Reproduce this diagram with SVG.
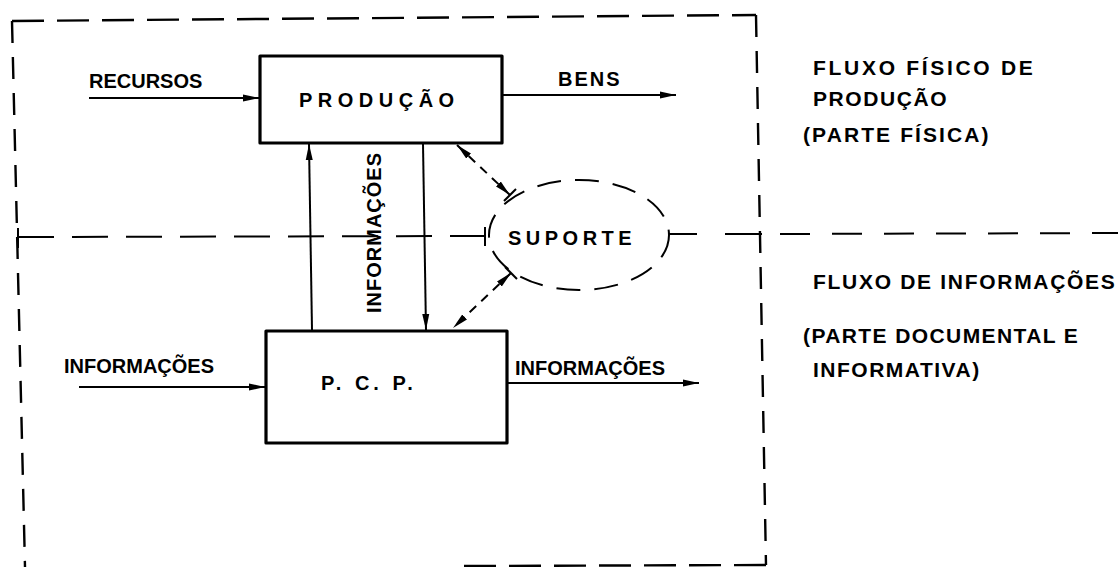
<svg xmlns="http://www.w3.org/2000/svg" width="1118" height="567" viewBox="0 0 1118 567">
<defs>
<style>
.bg{fill:#fff}
.box{fill:none;stroke:#000;stroke-width:3.2;stroke-linejoin:round}
.ln{fill:none;stroke:#000;stroke-width:2}
.dh{fill:none;stroke:#000;stroke-width:2.4;stroke-dasharray:32 13}
.dv{fill:none;stroke:#000;stroke-width:2.4;stroke-dasharray:22 14}
.dm{fill:none;stroke:#000;stroke-width:2;stroke-dasharray:36 18}
.de{fill:none;stroke:#000;stroke-width:2;stroke-dasharray:24 14}
.da{fill:none;stroke:#000;stroke-width:2;stroke-dasharray:9 7}
.t{font-family:"Liberation Sans",Arial,sans-serif;font-weight:bold;font-size:20px;fill:#000}
.lg{font-size:21px}
</style>
<marker id="ah" viewBox="0 0 16 8" refX="16" refY="4" markerWidth="16" markerHeight="8" markerUnits="userSpaceOnUse" orient="auto-start-reverse">
<path d="M0,0.5 L16,4 L0,7.5 Z" fill="#000"/>
</marker>
</defs>
<rect class="bg" x="0" y="0" width="1118" height="567"/>

<g id="frame">
<line class="dh" x1="12" y1="21" x2="756" y2="15"/>
<line class="dv" x1="12" y1="21" x2="25" y2="567"/>
<line class="dv" x1="756" y1="15" x2="766" y2="565"/>
<line class="dh" x1="766" y1="565" x2="455" y2="566"/>
<line class="dm" x1="18" y1="237" x2="485" y2="236"/>
<line class="ln" x1="18" y1="228" x2="18" y2="248"/>
<line class="ln" x1="485" y1="227" x2="485" y2="246"/>
<line class="ln" x1="669" y1="234" x2="697" y2="234"/>
<line class="ln" x1="725" y1="234" x2="762" y2="234"/>
<line class="dm" x1="780" y1="234" x2="1118" y2="233" style="stroke-dasharray:30 22"/>
</g>

<g id="producao">
<rect class="box" x="260" y="56" width="242" height="87"/>
<text class="t" x="299" y="107" style="letter-spacing:5.5px">PRODUÇÃO</text>
</g>

<g id="pcp">
<rect class="box" x="266" y="331" width="241" height="112"/>
<text class="t" x="321" y="390" style="letter-spacing:4px">P. C. P.</text>
</g>

<g id="suporte">
<ellipse class="de" cx="579" cy="235" rx="90" ry="55"/>
<text class="t" x="508" y="245" style="letter-spacing:4.5px">SUPORTE</text>
</g>

<g id="connectors">
<line class="ln" x1="89" y1="98" x2="259" y2="98" marker-end="url(#ah)"/>
<line class="ln" x1="502" y1="95" x2="676" y2="95" marker-end="url(#ah)"/>
<line class="ln" x1="79" y1="387" x2="265" y2="387" marker-end="url(#ah)"/>
<line class="ln" x1="507" y1="383" x2="699" y2="383" marker-end="url(#ah)"/>
<line class="ln" x1="312" y1="330" x2="309" y2="144" marker-end="url(#ah)"/>
<line class="ln" x1="423" y1="144" x2="426" y2="330" marker-end="url(#ah)"/>
<line class="da" x1="457" y1="145" x2="510" y2="195" marker-start="url(#ah)" marker-end="url(#ah)"/>
<line class="ln" x1="504" y1="201" x2="516" y2="189"/>
<line class="da" x1="511" y1="273" x2="453" y2="328" marker-start="url(#ah)" marker-end="url(#ah)"/>
<line class="ln" x1="505" y1="267" x2="517" y2="279"/>
</g>

<g id="labels">
<text class="t" x="89" y="88">RECURSOS</text>
<text class="t" x="558" y="86" style="letter-spacing:2px">BENS</text>
<text class="t" x="64" y="373">INFORMAÇÕES</text>
<text class="t" x="515" y="375">INFORMAÇÕES</text>
<text class="t" transform="translate(381,313) rotate(-90)" style="letter-spacing:1px">INFORMAÇÕES</text>
</g>

<g id="legend">
<text class="t lg" x="813" y="75" style="letter-spacing:2.7px">FLUXO FÍSICO DE</text>
<text class="t lg" x="813" y="106" style="letter-spacing:1.6px">PRODUÇÃO</text>
<text class="t lg" x="803" y="142" style="letter-spacing:2.1px">(PARTE FÍSICA)</text>
<text class="t lg" x="813" y="289" style="letter-spacing:1.7px">FLUXO DE INFORMAÇÕES</text>
<text class="t lg" x="803" y="343" style="letter-spacing:1.4px">(PARTE DOCUMENTAL E</text>
<text class="t lg" x="813" y="377" style="letter-spacing:1.5px">INFORMATIVA)</text>
</g>
</svg>
